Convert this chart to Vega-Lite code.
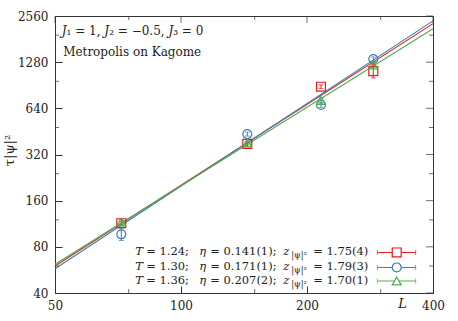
{
  "$schema": "https://vega.github.io/schema/vega-lite/v6.json",
  "width": 378,
  "height": 277,
  "autosize": {"type": "none"},
  "padding": {"left": 55, "top": 16, "right": 25, "bottom": 28},
  "background": "white",
  "config": {
    "view": {"stroke": "#333", "strokeWidth": 1},
    "axis": {"domain": false, "grid": false, "tickColor": "#333", "tickSize": -7, "tickWidth": 1, "labelFont": "DejaVu Serif", "labelFontSize": 12, "labelColor": "#222", "titleFont": "DejaVu Serif", "titleFontWeight": "normal", "titleColor": "#222", "titleFontSize": 13, "labelFlush": false, "labelOverlap": false, "labelPadding": 14},
    "text": {"font": "DejaVu Serif", "fontSize": 12, "color": "#222", "baseline": "middle", "align": "left"},
    "tick": {"color": "#333", "thickness": 1}
  },
  "datasets": {
    "fits": [
      {"T": "1.24", "L": 50, "tau": 60},
      {"T": "1.24", "L": 400, "tau": 2283},
      {"T": "1.30", "L": 50, "tau": 57.5},
      {"T": "1.30", "L": 400, "tau": 2378},
      {"T": "1.36", "L": 50, "tau": 61.6},
      {"T": "1.36", "L": 400, "tau": 2113}
    ],
    "pts": [
      {"T": "1.24", "L": 72, "tau": 114, "lo": 110, "hi": 118},
      {"T": "1.30", "L": 72, "tau": 96.5, "lo": 88, "hi": 106},
      {"T": "1.36", "L": 72, "tau": 116, "lo": 112, "hi": 121},
      {"T": "1.24", "L": 144, "tau": 375, "lo": 362, "hi": 388},
      {"T": "1.30", "L": 144, "tau": 435, "lo": 422, "hi": 448},
      {"T": "1.36", "L": 144, "tau": 380, "lo": 370, "hi": 390},
      {"T": "1.24", "L": 216, "tau": 885, "lo": 860, "hi": 910},
      {"T": "1.30", "L": 216, "tau": 673, "lo": 650, "hi": 697},
      {"T": "1.36", "L": 216, "tau": 720, "lo": 690, "hi": 752},
      {"T": "1.24", "L": 288, "tau": 1120, "lo": 1010, "hi": 1240},
      {"T": "1.30", "L": 288, "tau": 1342, "lo": 1300, "hi": 1385},
      {"T": "1.36", "L": 288, "tau": 1226, "lo": 1170, "hi": 1285}
    ],
    "xmaj": [{"v": 50}, {"v": 100}, {"v": 200}, {"v": 400}],
    "xmin": [{"v": 75}, {"v": 150}, {"v": 300}],
    "ymaj": [{"v": 40}, {"v": 80}, {"v": 160}, {"v": 320}, {"v": 640}, {"v": 1280}, {"v": 2560}],
    "ymin": [{"v": 60}, {"v": 120}, {"v": 240}, {"v": 480}, {"v": 960}, {"v": 1920}]
  },
  "layer": [
    {
      "data": {"name": "fits"},
      "mark": {"type": "line", "strokeWidth": 1.1},
      "encoding": {
        "x": {"field": "L", "type": "quantitative", "scale": {"type": "log", "domain": [50, 400], "nice": false}, "axis": {"values": [50, 100, 200, 400], "labelExpr": "'' + datum.value", "title": "L", "titleFontStyle": "italic", "titleX": 347, "titleY": 10, "titleAlign": "center", "titleBaseline": "middle"}},
        "y": {"field": "tau", "type": "quantitative", "scale": {"type": "log", "domain": [40, 2560], "nice": false}, "axis": {"values": [40, 80, 160, 320, 640, 1280, 2560], "labelExpr": "'' + datum.value", "title": "τ|ψ|²", "titleX": -46, "titleY": 134, "titleAlign": "center", "titleBaseline": "middle"}},
        "color": {"field": "T", "type": "nominal", "scale": {"domain": ["1.24", "1.30", "1.36"], "range": ["#e41a1c", "#377eb8", "#4daf4a"]}, "legend": null}
      }
    },
    {
      "data": {"name": "xmin"},
      "mark": {"type": "tick", "orient": "vertical", "size": 4, "yOffset": -2},
      "encoding": {
        "x": {"field": "v", "type": "quantitative", "scale": {"type": "log", "domain": [50, 400], "nice": false}, "axis": null},
        "y": {"datum": 40, "type": "quantitative", "scale": {"type": "log", "domain": [40, 2560], "nice": false}, "axis": null}
      }
    },
    {
      "data": {"name": "xmin"},
      "mark": {"type": "tick", "orient": "vertical", "size": 4, "yOffset": 2},
      "encoding": {
        "x": {"field": "v", "type": "quantitative", "scale": {"type": "log", "domain": [50, 400], "nice": false}, "axis": null},
        "y": {"datum": 2560, "type": "quantitative", "scale": {"type": "log", "domain": [40, 2560], "nice": false}, "axis": null}
      }
    },
    {
      "data": {"name": "xmaj"},
      "mark": {"type": "tick", "orient": "vertical", "size": 7, "yOffset": 3.5},
      "encoding": {
        "x": {"field": "v", "type": "quantitative", "scale": {"type": "log", "domain": [50, 400], "nice": false}, "axis": null},
        "y": {"datum": 2560, "type": "quantitative", "scale": {"type": "log", "domain": [40, 2560], "nice": false}, "axis": null}
      }
    },
    {
      "data": {"name": "ymin"},
      "mark": {"type": "tick", "orient": "horizontal", "size": 4, "xOffset": 2},
      "encoding": {
        "y": {"field": "v", "type": "quantitative", "scale": {"type": "log", "domain": [40, 2560], "nice": false}, "axis": null},
        "x": {"datum": 50, "type": "quantitative", "scale": {"type": "log", "domain": [50, 400], "nice": false}, "axis": null}
      }
    },
    {
      "data": {"name": "ymin"},
      "mark": {"type": "tick", "orient": "horizontal", "size": 4, "xOffset": -2},
      "encoding": {
        "y": {"field": "v", "type": "quantitative", "scale": {"type": "log", "domain": [40, 2560], "nice": false}, "axis": null},
        "x": {"datum": 400, "type": "quantitative", "scale": {"type": "log", "domain": [50, 400], "nice": false}, "axis": null}
      }
    },
    {
      "data": {"name": "ymaj"},
      "mark": {"type": "tick", "orient": "horizontal", "size": 7, "xOffset": -3.5},
      "encoding": {
        "y": {"field": "v", "type": "quantitative", "scale": {"type": "log", "domain": [40, 2560], "nice": false}, "axis": null},
        "x": {"datum": 400, "type": "quantitative", "scale": {"type": "log", "domain": [50, 400], "nice": false}, "axis": null}
      }
    },
    {
      "data": {"name": "pts"},
      "mark": {"type": "rule", "strokeWidth": 1},
      "encoding": {
        "x": {"field": "L", "type": "quantitative", "scale": {"type": "log", "domain": [50, 400], "nice": false}, "axis": null},
        "y": {"field": "lo", "type": "quantitative", "scale": {"type": "log", "domain": [40, 2560], "nice": false}, "axis": null},
        "y2": {"field": "hi"},
        "color": {"field": "T", "type": "nominal", "legend": null}
      }
    },
    {
      "data": {"name": "pts"},
      "mark": {"type": "tick", "orient": "horizontal", "size": 5, "thickness": 1},
      "encoding": {
        "x": {"field": "L", "type": "quantitative", "scale": {"type": "log", "domain": [50, 400], "nice": false}, "axis": null},
        "y": {"field": "lo", "type": "quantitative", "scale": {"type": "log", "domain": [40, 2560], "nice": false}, "axis": null},
        "color": {"field": "T", "type": "nominal", "legend": null}
      }
    },
    {
      "data": {"name": "pts"},
      "mark": {"type": "tick", "orient": "horizontal", "size": 5, "thickness": 1},
      "encoding": {
        "x": {"field": "L", "type": "quantitative", "scale": {"type": "log", "domain": [50, 400], "nice": false}, "axis": null},
        "y": {"field": "hi", "type": "quantitative", "scale": {"type": "log", "domain": [40, 2560], "nice": false}, "axis": null},
        "color": {"field": "T", "type": "nominal", "legend": null}
      }
    },
    {
      "data": {"name": "pts"},
      "mark": {"type": "point", "filled": false, "strokeWidth": 1.2, "size": 80, "opacity": 1},
      "encoding": {
        "x": {"field": "L", "type": "quantitative", "scale": {"type": "log", "domain": [50, 400], "nice": false}, "axis": null},
        "y": {"field": "tau", "type": "quantitative", "scale": {"type": "log", "domain": [40, 2560], "nice": false}, "axis": null},
        "color": {"field": "T", "type": "nominal", "legend": null},
        "shape": {"field": "T", "type": "nominal", "scale": {"domain": ["1.24", "1.30", "1.36"], "range": ["square", "circle", "triangle-up"]}, "legend": null}
      }
    },
    {
      "data": {"values": [{"txt": "𝐽₁ = 1,  𝐽₂ = −0.5,  𝐽₃ = 0"}]},
      "mark": {"type": "text"},
      "encoding": {
        "x": {"datum": 51.9, "type": "quantitative", "scale": {"type": "log", "domain": [50, 400], "nice": false}, "axis": null},
        "y": {"datum": 2044, "type": "quantitative", "scale": {"type": "log", "domain": [40, 2560], "nice": false}, "axis": null},
        "text": {"field": "txt"}
      }
    },
    {
      "data": {"values": [{"txt": "Metropolis on Kagome"}]},
      "mark": {"type": "text"},
      "encoding": {
        "x": {"datum": 52.3, "type": "quantitative", "scale": {"type": "log", "domain": [50, 400], "nice": false}, "axis": null},
        "y": {"datum": 1480, "type": "quantitative", "scale": {"type": "log", "domain": [40, 2560], "nice": false}, "axis": null},
        "text": {"field": "txt"}
      }
    },
    {
      "data": {"values": [{"T": "1.24", "a": "= 1.24;", "b": "= 0.141(1);", "c": "= 1.75(4)"}]},
      "encoding": {
        "y": {"datum": 73.5, "type": "quantitative", "scale": {"type": "log", "domain": [40, 2560], "nice": false}, "axis": null}
      },
      "layer": [
        {"mark": {"type": "rule", "strokeWidth": 1}, "encoding": {"x": {"datum": 294.5, "type": "quantitative", "axis": null}, "x2": {"datum": 363.6}, "color": {"field": "T", "type": "nominal", "legend": null}}},
        {"mark": {"type": "tick", "orient": "vertical", "size": 5}, "encoding": {"x": {"datum": 294.5, "type": "quantitative", "axis": null}, "color": {"field": "T", "type": "nominal", "legend": null}}},
        {"mark": {"type": "tick", "orient": "vertical", "size": 5}, "encoding": {"x": {"datum": 363.6, "type": "quantitative", "axis": null}, "color": {"field": "T", "type": "nominal", "legend": null}}},
        {"mark": {"type": "point", "filled": false, "fill": "white", "fillOpacity": 1, "strokeWidth": 1.2, "size": 80}, "encoding": {"x": {"datum": 327.6, "type": "quantitative", "axis": null}, "color": {"field": "T", "type": "nominal", "legend": null}, "shape": {"field": "T", "type": "nominal", "legend": null}}},
        {"mark": {"type": "text", "text": "T", "fontStyle": "italic", "fontSize": 11.5, "dx": -233}, "encoding": {"x": {"datum": 280, "type": "quantitative", "axis": null}}},
        {"mark": {"type": "text", "fontSize": 11.5, "dx": -222}, "encoding": {"x": {"datum": 280, "type": "quantitative", "axis": null}, "text": {"field": "a"}}},
        {"mark": {"type": "text", "text": "η", "fontStyle": "italic", "fontSize": 11.5, "dx": -169}, "encoding": {"x": {"datum": 280, "type": "quantitative", "axis": null}}},
        {"mark": {"type": "text", "fontSize": 11.5, "dx": -158}, "encoding": {"x": {"datum": 280, "type": "quantitative", "axis": null}, "text": {"field": "b"}}},
        {"mark": {"type": "text", "text": "z", "fontStyle": "italic", "fontSize": 11.5, "dx": -85}, "encoding": {"x": {"datum": 280, "type": "quantitative", "axis": null}}},
        {"mark": {"type": "text", "text": "|ψ|²", "fontSize": 8.5, "dx": -77, "dy": 3}, "encoding": {"x": {"datum": 280, "type": "quantitative", "axis": null}}},
        {"mark": {"type": "text", "fontSize": 11.5, "dx": -55}, "encoding": {"x": {"datum": 280, "type": "quantitative", "axis": null}, "text": {"field": "c"}}}
      ]
    },
    {
      "data": {"values": [{"T": "1.30", "a": "= 1.30;", "b": "= 0.171(1);", "c": "= 1.79(3)"}]},
      "encoding": {
        "y": {"datum": 58.7, "type": "quantitative", "scale": {"type": "log", "domain": [40, 2560], "nice": false}, "axis": null}
      },
      "layer": [
        {"mark": {"type": "rule", "strokeWidth": 1}, "encoding": {"x": {"datum": 294.5, "type": "quantitative", "axis": null}, "x2": {"datum": 363.6}, "color": {"field": "T", "type": "nominal", "legend": null}}},
        {"mark": {"type": "tick", "orient": "vertical", "size": 5}, "encoding": {"x": {"datum": 294.5, "type": "quantitative", "axis": null}, "color": {"field": "T", "type": "nominal", "legend": null}}},
        {"mark": {"type": "tick", "orient": "vertical", "size": 5}, "encoding": {"x": {"datum": 363.6, "type": "quantitative", "axis": null}, "color": {"field": "T", "type": "nominal", "legend": null}}},
        {"mark": {"type": "point", "filled": false, "fill": "white", "fillOpacity": 1, "strokeWidth": 1.2, "size": 80}, "encoding": {"x": {"datum": 327.6, "type": "quantitative", "axis": null}, "color": {"field": "T", "type": "nominal", "legend": null}, "shape": {"field": "T", "type": "nominal", "legend": null}}},
        {"mark": {"type": "text", "text": "T", "fontStyle": "italic", "fontSize": 11.5, "dx": -233}, "encoding": {"x": {"datum": 280, "type": "quantitative", "axis": null}}},
        {"mark": {"type": "text", "fontSize": 11.5, "dx": -222}, "encoding": {"x": {"datum": 280, "type": "quantitative", "axis": null}, "text": {"field": "a"}}},
        {"mark": {"type": "text", "text": "η", "fontStyle": "italic", "fontSize": 11.5, "dx": -169}, "encoding": {"x": {"datum": 280, "type": "quantitative", "axis": null}}},
        {"mark": {"type": "text", "fontSize": 11.5, "dx": -158}, "encoding": {"x": {"datum": 280, "type": "quantitative", "axis": null}, "text": {"field": "b"}}},
        {"mark": {"type": "text", "text": "z", "fontStyle": "italic", "fontSize": 11.5, "dx": -85}, "encoding": {"x": {"datum": 280, "type": "quantitative", "axis": null}}},
        {"mark": {"type": "text", "text": "|ψ|²", "fontSize": 8.5, "dx": -77, "dy": 3}, "encoding": {"x": {"datum": 280, "type": "quantitative", "axis": null}}},
        {"mark": {"type": "text", "fontSize": 11.5, "dx": -55}, "encoding": {"x": {"datum": 280, "type": "quantitative", "axis": null}, "text": {"field": "c"}}}
      ]
    },
    {
      "data": {"values": [{"T": "1.36", "a": "= 1.36;", "b": "= 0.207(2);", "c": "= 1.70(1)"}]},
      "encoding": {
        "y": {"datum": 47.9, "type": "quantitative", "scale": {"type": "log", "domain": [40, 2560], "nice": false}, "axis": null}
      },
      "layer": [
        {"mark": {"type": "rule", "strokeWidth": 1}, "encoding": {"x": {"datum": 294.5, "type": "quantitative", "axis": null}, "x2": {"datum": 363.6}, "color": {"field": "T", "type": "nominal", "legend": null}}},
        {"mark": {"type": "tick", "orient": "vertical", "size": 5}, "encoding": {"x": {"datum": 294.5, "type": "quantitative", "axis": null}, "color": {"field": "T", "type": "nominal", "legend": null}}},
        {"mark": {"type": "tick", "orient": "vertical", "size": 5}, "encoding": {"x": {"datum": 363.6, "type": "quantitative", "axis": null}, "color": {"field": "T", "type": "nominal", "legend": null}}},
        {"mark": {"type": "point", "filled": false, "fill": "white", "fillOpacity": 1, "strokeWidth": 1.2, "size": 80}, "encoding": {"x": {"datum": 327.6, "type": "quantitative", "axis": null}, "color": {"field": "T", "type": "nominal", "legend": null}, "shape": {"field": "T", "type": "nominal", "legend": null}}},
        {"mark": {"type": "text", "text": "T", "fontStyle": "italic", "fontSize": 11.5, "dx": -233}, "encoding": {"x": {"datum": 280, "type": "quantitative", "axis": null}}},
        {"mark": {"type": "text", "fontSize": 11.5, "dx": -222}, "encoding": {"x": {"datum": 280, "type": "quantitative", "axis": null}, "text": {"field": "a"}}},
        {"mark": {"type": "text", "text": "η", "fontStyle": "italic", "fontSize": 11.5, "dx": -169}, "encoding": {"x": {"datum": 280, "type": "quantitative", "axis": null}}},
        {"mark": {"type": "text", "fontSize": 11.5, "dx": -158}, "encoding": {"x": {"datum": 280, "type": "quantitative", "axis": null}, "text": {"field": "b"}}},
        {"mark": {"type": "text", "text": "z", "fontStyle": "italic", "fontSize": 11.5, "dx": -85}, "encoding": {"x": {"datum": 280, "type": "quantitative", "axis": null}}},
        {"mark": {"type": "text", "text": "|ψ|²", "fontSize": 8.5, "dx": -77, "dy": 3}, "encoding": {"x": {"datum": 280, "type": "quantitative", "axis": null}}},
        {"mark": {"type": "text", "fontSize": 11.5, "dx": -55}, "encoding": {"x": {"datum": 280, "type": "quantitative", "axis": null}, "text": {"field": "c"}}}
      ]
    }
  ],
  "resolve": {"axis": {"x": "independent", "y": "independent"}}
}
